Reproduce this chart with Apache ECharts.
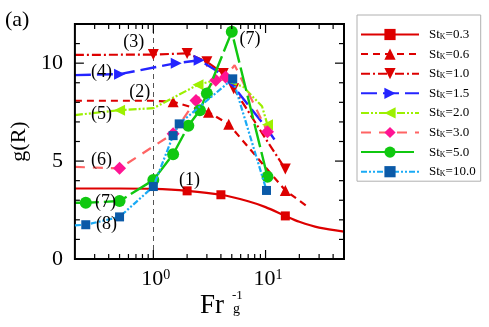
<!DOCTYPE html>
<html>
<head>
<meta charset="utf-8">
<script src="https://cdn.jsdelivr.net/npm/echarts@6/dist/echarts.min.js"></script>
<style>html,body{margin:0;padding:0;background:#fff}#c{width:489px;height:327px}</style>
</head>
<body>
<div id="c"></div>
<script>
// ---- data (x = Fr_g^-1, y = g(R)); m = 1 where a marker is drawn ----
const names = ['St_K=0.3','St_K=0.6','St_K=1.0','St_K=1.5','St_K=2.0','St_K=3.0','St_K=5.0','St_K=10.0'];

const s03x = [0.2,0.5,1,2,4,7,10,15,20,30,50];
const s03y = [3.6,3.6,3.58,3.48,3.28,2.95,2.65,2.2,1.9,1.6,1.4];
const s03m = [0,0,0,1,1,0,0,1,0,0,0];

const s06x = [0.2,1,1.5,3.1,4.7,15,24];
const s06y = [8.08,8.08,8.03,7.5,6.88,3.5,2.65];
const s06m = [0,0,1,1,1,1,0];

const s10x = [0.2,1,2,3,4.2,5.2,10,15];
const s10y = [10.42,10.44,10.5,10.07,9.47,8.7,6.15,4.6];
const s10m = [0,1,1,1,1,1,0,1];

const s15x = [0.2,0.5,1.6,2.56,3.6,5.2,10,12.7];
const s15y = [9.39,9.44,10.0,10.15,9.64,8.8,6.75,5.9];
const s15m = [0,1,1,1,0,0,0,0];

const s20x = [0.2,0.5,1,2.5,4,6.3,9.3,10.4];
const s20y = [7.35,7.6,7.7,8.9,9.2,8.8,7.8,6.85];
const s20m = [0,1,0,1,0,0,0,1];

const s30x = [0.2,0.5,1.5,2.4,3.6,4.4,5.3,10.4];
const s30y = [4.7,4.63,6.4,8.1,9.13,9.3,9.9,6.5];
const s30m = [0,1,1,1,1,1,0,1];

const s50x = [0.2,0.25,0.5,1,1.5,2.05,2.6,3,5,10.4];
const s50y = [2.87,2.87,2.96,4.03,5.35,6.8,7.6,8.45,11.6,4.2];
const s50m = [0,1,1,1,1,1,1,1,1,1];

const s100x = [0.2,0.25,0.5,1,1.5,1.7,5.1,10.2];
const s100y = [1.72,1.75,2.15,3.7,6.3,6.9,9.2,3.5];
const s100m = [0,1,1,1,1,1,1,1];

// annotation labels in data coordinates
const notes = [
  ['(1)', 2.1, 4.03], ['(2)', 0.756, 8.52], ['(3)', 0.67, 11.07], ['(4)', 0.346, 9.54],
  ['(5)', 0.346, 7.4], ['(6)', 0.346, 5.05], ['(7)', 0.375, 2.91], ['(8)', 0.383, 1.79],
  ['(7)', 7.26, 11.22]
];

(function () {
const SERIF = "'Liberation Serif','DejaVu Serif',serif";

function pts(xs, ys, ms) {
  return xs.map((x, i) => ms[i] ? [x, ys[i]] : { value: [x, ys[i]], symbol: 'none' });
}

const styles = [
  { x: s03x, y: s03y, m: s03m, lc: '#dd0000', mc: '#dd0000', type: 'solid', sym: 'rect', size: 9, rot: 0, w: 2.2, smooth: 0.3 },
  { x: s06x, y: s06y, m: s06m, lc: '#dd0000', mc: '#dd0000', type: [7,5], sym: 'triangle', size: 11, rot: 0, w: 2.2 },
  { x: s10x, y: s10y, m: s10m, lc: '#dd0000', mc: '#dd0000', type: [9,3,2,3], sym: 'triangle', size: 11, rot: 180, w: 2.2 },
  { x: s15x, y: s15y, m: s15m, lc: '#2424ff', mc: '#2424ff', type: [16,6], sym: 'triangle', size: 11, rot: -90, w: 2.4 },
  { x: s20x, y: s20y, m: s20m, lc: '#9cf000', mc: '#9cf000', type: [8,2,2,2,2,2], sym: 'triangle', size: 11, rot: 90, w: 2.2 },
  { x: s30x, y: s30y, m: s30m, lc: '#ff6464', mc: '#ff1493', type: [10,8], sym: 'diamond', size: 13, rot: 0, w: 2.2 },
  { x: s50x, y: s50y, m: s50m, lc: '#10c810', mc: '#10c810', type: [24,5], sym: 'circle', size: 12, rot: 0, w: 2.4 },
  { x: s100x, y: s100y, m: s100m, lc: '#1aaaf5', mc: '#0b5aa8', type: [6,2,2,2,2,2], sym: 'rect', size: 9, rot: 0, w: 2.2 }
];

const series = styles.map((s, i) => ({
  name: names[i],
  type: 'line',
  data: pts(s.x, s.y, s.m),
  symbol: s.sym,
  symbolSize: s.size,
  symbolRotate: s.rot,
  showAllSymbol: true,
  smooth: s.smooth || false,
  lineStyle: { color: s.lc, width: s.w, type: s.type },
  itemStyle: { color: s.mc },
  emphasis: { disabled: true },
  z: 3 + i,
  markLine: i === 0 ? {
    silent: true, symbol: 'none', label: { show: false },
    lineStyle: { color: '#555', width: 1, type: [5,4] },
    data: [{ xAxis: 1 }]
  } : undefined
}));

const chart = echarts.init(document.getElementById('c'), null, { renderer: 'canvas' });

const option = {
  animation: false,
  backgroundColor: '#fff',
  grid: { left: 68, right: 145, top: 24, bottom: 68, show: true, borderColor: '#000', borderWidth: 2, z: 10 },
  xAxis: {
    type: 'log', logBase: 10, min: 0.2, max: 50,
    axisLine: { show: false }, axisTick: { show: false }, splitLine: { show: false },
    axisLabel: {
      margin: 9,
      formatter: v => {
        const l = Math.log10(v);
        if (Math.abs(l - Math.round(l)) > 1e-6) return '';
        return '{b|10}{s|' + Math.round(l) + '}';
      },
      rich: {
        b: { fontFamily: SERIF, fontSize: 22, color: '#000', verticalAlign: 'bottom', lineHeight: 22, padding: [0, 0, 0, 5] },
        s: { fontFamily: SERIF, fontSize: 14, color: '#000', verticalAlign: 'top', lineHeight: 14, padding: [0, 0, 10, 0] }
      }
    }
  },
  yAxis: {
    type: 'value', min: 0, max: 12, interval: 5,
    axisLine: { show: false }, axisTick: { show: false }, splitLine: { show: false },
    axisLabel: {
      margin: 12, fontFamily: SERIF, fontSize: 22, color: '#000',
      formatter: v => (v % 5 === 0 ? String(v) : '')
    },
    name: 'g(R)', nameLocation: 'middle', nameGap: 38, nameRotate: 90,
    nameTextStyle: { fontFamily: SERIF, fontSize: 22, color: '#000' }
  },
  legend: {
    orient: 'vertical', left: 357, top: 15,
    padding: [13, 5, 3, 3], itemGap: 6.6, itemWidth: 58, itemHeight: 14,
    backgroundColor: '#fff', borderColor: '#b0b0b0', borderWidth: 1,
    data: names,
    formatter: n => '{a|St}{k|K}{a|=' + n.split('=')[1] + '}',
    textStyle: {
      padding: [0, 0, 0, 5],
      rich: {
        a: { fontFamily: SERIF, fontSize: 13, color: '#000', lineHeight: 14 },
        k: { fontFamily: SERIF, fontSize: 8, color: '#000', padding: [5, 0, 0, 0], lineHeight: 8 }
      }
    }
  },
  series: series
};

chart.setOption(option);

// ticks (inside, on all four sides) and text annotations
function P(x, y) { return chart.convertToPixel({ gridIndex: 0 }, [x, y]); }
const g = [];
const X0 = 0.2, X1 = 50;
const LB = P(X0, 0), RT = P(X1, 12);
const gl = LB[0], gb = LB[1], gr = RT[0], gt = RT[1];
function tick(xa, ya, xb, yb) {
  g.push({ type: 'line', shape: { x1: xa, y1: ya, x2: xb, y2: yb }, style: { stroke: '#000', lineWidth: 1.2 }, z: 20, silent: true });
}
[0.1, 1, 10].forEach(d => {
  for (let k = 1; k <= 9; k++) {
    const v = k * d;
    if (v <= X0 + 1e-9 || v >= X1 - 1e-9) continue;
    const px = P(v, 0)[0];
    const len = (k === 1) ? 9 : 5;
    tick(px, gb, px, gb - len);
    tick(px, gt, px, gt + len);
  }
});
for (let v = 1; v < 12; v++) {
  const py = P(1, v)[1];
  const len = (v % 5 === 0) ? 9 : 5;
  tick(gl, py, gl + len, py);
  tick(gr, py, gr - len, py);
}
notes.forEach(n => {
  const p = P(n[1], n[2]);
  g.push({ type: 'text', x: p[0], y: p[1], z: 30, silent: true,
    style: { text: n[0], font: '18px ' + SERIF, fill: '#000', textAlign: 'center', textVerticalAlign: 'middle' } });
});
g.push({ type: 'text', left: 5, top: 9, z: 30, style: { text: '(a)', font: '22px ' + SERIF, fill: '#000' } });
g.push({ type: 'text', x: 200, y: 292, z: 30, style: { text: 'Fr', font: '27px ' + SERIF, fill: '#000' } });
g.push({ type: 'text', x: 232, y: 289, z: 30, style: { text: '-1', font: '13px ' + SERIF, fill: '#000' } });
g.push({ type: 'text', x: 233, y: 302, z: 30, style: { text: 'g', font: '14px ' + SERIF, fill: '#000' } });

chart.setOption({ graphic: g });
})();
</script>
</body>
</html>
